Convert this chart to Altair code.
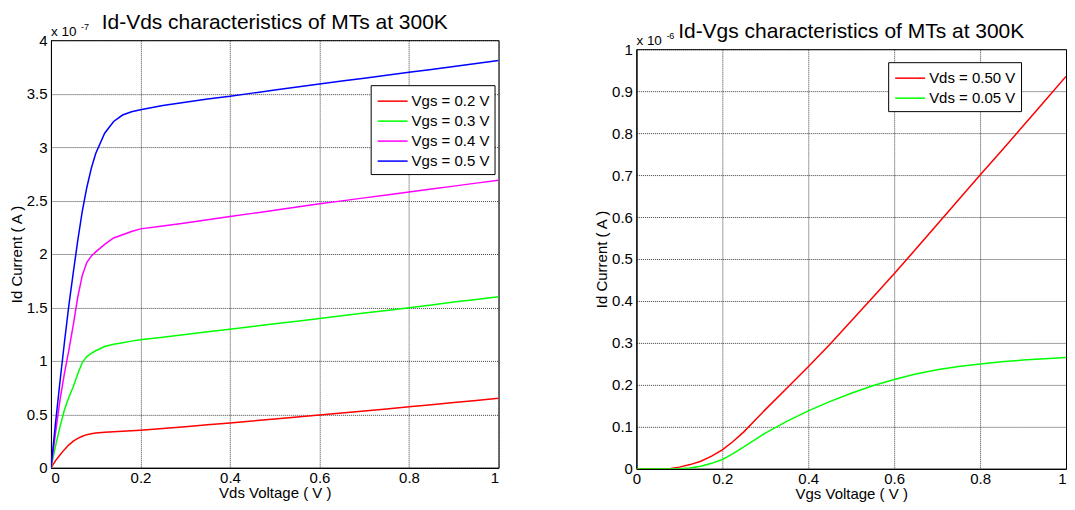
import altair as alt
import pandas as pd

FONT = "Liberation Sans"

# ---------------- Left panel: Id-Vds (units of 1e-7 A) ----------------
vds = [0, 0.01, 0.02, 0.03, 0.04, 0.05, 0.06, 0.07, 0.08, 0.09, 0.10, 0.12, 0.14,
       0.16, 0.18, 0.20, 0.25, 0.30, 0.35, 0.40, 0.45, 0.50, 0.55, 0.60, 0.65,
       0.70, 0.75, 0.80, 0.85, 0.90, 0.95, 1.00]
id_vgs02 = [0, 0.065, 0.12, 0.17, 0.215, 0.25, 0.275, 0.295, 0.31, 0.318, 0.325,
            0.333, 0.338, 0.342, 0.347, 0.352, 0.368, 0.385, 0.402, 0.42, 0.438,
            0.457, 0.476, 0.495, 0.513, 0.532, 0.551, 0.57, 0.59, 0.61, 0.63, 0.65]
id_vgs03 = [0, 0.2, 0.38, 0.54, 0.66, 0.76, 0.88, 0.985, 1.04, 1.07, 1.095,
            1.135, 1.155, 1.17, 1.185, 1.197, 1.222, 1.247, 1.272, 1.297, 1.322,
            1.347, 1.372, 1.397, 1.422, 1.447, 1.472, 1.497, 1.523, 1.55, 1.575, 1.6]
id_vgs04 = [0, 0.32, 0.63, 0.88, 1.1, 1.34, 1.6, 1.8, 1.92, 1.98, 2.02,
            2.09, 2.15, 2.18, 2.21, 2.235, 2.262, 2.29, 2.32, 2.35, 2.38,
            2.41, 2.44, 2.47, 2.497, 2.525, 2.552, 2.58, 2.608, 2.635, 2.663, 2.69]
id_vgs05 = [0, 0.41, 0.8, 1.17, 1.52, 1.83, 2.13, 2.4, 2.62, 2.8, 2.94,
            3.13, 3.24, 3.3, 3.33, 3.35, 3.39, 3.42, 3.45, 3.475, 3.505,
            3.535, 3.562, 3.59, 3.618, 3.645, 3.672, 3.70, 3.727, 3.755, 3.782, 3.81]
vgs_labels = ["Vgs = 0.2 V", "Vgs = 0.3 V", "Vgs = 0.4 V", "Vgs = 0.5 V"]
left_colors = ["#ff0000", "#00ff00", "#ff00ff", "#0000ff"]
left_x_ticks = [0, 0.2, 0.4, 0.6, 0.8, 1]
left_y_ticks = [0, 0.5, 1, 1.5, 2, 2.5, 3, 3.5, 4]

# ---------------- Right panel: Id-Vgs (units of 1e-6 A) ----------------
vgs = [0, 0.05, 0.08, 0.10, 0.125, 0.15, 0.175, 0.20, 0.225, 0.25, 0.30, 0.35,
       0.40, 0.45, 0.50, 0.55, 0.60, 0.65, 0.70, 0.75, 0.80, 0.85, 0.90, 0.95, 1.00]
id_vds050 = [0, 0, 0.001, 0.004, 0.01, 0.018, 0.03, 0.045, 0.065, 0.088, 0.141,
             0.192, 0.243, 0.296, 0.352, 0.408, 0.465, 0.523, 0.582, 0.641, 0.70,
             0.758, 0.817, 0.876, 0.935]
id_vds005 = [0, 0, 0, 0, 0.002, 0.006, 0.013, 0.022, 0.036, 0.052, 0.085,
             0.113, 0.138, 0.16, 0.18, 0.198, 0.213, 0.226, 0.236, 0.244, 0.25,
             0.255, 0.259, 0.262, 0.265]
vds_labels = ["Vds = 0.50 V", "Vds = 0.05 V"]
right_colors = ["#ff0000", "#00ff00"]
right_x_ticks = [0, 0.2, 0.4, 0.6, 0.8, 1]
right_y_ticks = [0, 0.1, 0.2, 0.3, 0.4, 0.5, 0.6, 0.7, 0.8, 0.9, 1]

titles = ["Id-Vds characteristics of MTs at 300K",
          "Id-Vgs characteristics of MTs at 300K"]


def make_df(xs, series, labels):
    rows = []
    for k, (lab, ys) in enumerate(zip(labels, series)):
        for x, y in zip(xs, ys):
            rows.append({"x": x, "y": y, "s": lab, "k": k})
    return pd.DataFrame(rows)


left_df = make_df(vds, [id_vgs02, id_vgs03, id_vgs04, id_vgs05], vgs_labels)
right_df = make_df(vgs, [id_vds050, id_vds005], vds_labels)


def panel(df, labels, colors, xticks, yticks, ymax, xtitle, title, w, h,
          legx, legy, exp_txt, flush_last=False):
    xaxis_kw = dict(values=xticks, title=xtitle, format="~g")
    if flush_last:
        xaxis_kw["labelAlign"] = {"condition": {"test": "datum.value >= 1",
                                                "value": "right"},
                                  "value": "center"}
    lines = alt.Chart(df).mark_line(strokeWidth=1.5, clip=True).encode(
        x=alt.X("x:Q", scale=alt.Scale(domain=[0, 1], nice=False, zero=False),
                axis=alt.Axis(**xaxis_kw)),
        y=alt.Y("y:Q", scale=alt.Scale(domain=[0, ymax], nice=False),
                axis=alt.Axis(values=yticks, title="Id Current ( A )", format="~g")),
        color=alt.Color("s:N", scale=alt.Scale(domain=labels, range=colors),
                        legend=alt.Legend(orient="none", legendX=legx, legendY=legy,
                                          title=None, symbolType="M-1.5,0H1.5",
                                          symbolSize=400, symbolStrokeWidth=1.5,
                                          symbolOffset=6,
                                          labelFontSize=15, labelFont=FONT,
                                          labelColor="black", fillColor="white",
                                          strokeColor="black", padding=5,
                                          labelOffset=8, rowPadding=1)),
        detail="k:N",
    )
    base_txt = alt.Chart(pd.DataFrame({"t": ["x 10"], "e": [exp_txt],
                                       "title": [title]}))
    ttl = base_txt.mark_text(align="center", baseline="alphabetic", fontSize=21,
                             font=FONT, color="black").encode(
        x=alt.value(w / 2), y=alt.value(-11), text="title:N")
    x10 = base_txt.mark_text(align="left", baseline="alphabetic", fontSize=13.5,
                             font=FONT, color="black").encode(
        x=alt.value(0), y=alt.value(-4), text="t:N")
    expo = base_txt.mark_text(align="left", baseline="alphabetic", fontSize=9,
                              font=FONT, color="black").encode(
        x=alt.value(30), y=alt.value(-10), text="e:N")
    return alt.layer(lines, ttl, x10, expo).properties(width=w, height=h)


def spacer(h):
    return alt.Chart(pd.DataFrame({"a": [0]})).mark_rule(opacity=0).encode(
        x=alt.value(0), x2=alt.value(1), y=alt.value(0), y2=alt.value(0)
    ).properties(width=1, height=h,
                 view=alt.ViewBackground(stroke="transparent"))


left = alt.vconcat(
    spacer(1),
    panel(left_df, vgs_labels, left_colors, left_x_ticks, left_y_ticks, 4,
          "Vds Voltage ( V )", titles[0], 448, 428, 320, 76, "-7"),
    spacing=0)

right = alt.vconcat(
    spacer(10),
    panel(right_df, vds_labels, right_colors, right_x_ticks, right_y_ticks, 1,
          "Vgs Voltage ( V )", titles[1], 430, 420, 252, 53, "-6",
          flush_last=True),
    spacing=0)

chart = alt.hconcat(left, right, spacing=94).resolve_scale(
    color="independent", x="independent", y="independent"
).configure_view(stroke="black", strokeWidth=1).configure_axis(
    labelFont=FONT, labelFontSize=15, labelColor="black", labelPadding=4,
    titleFont=FONT, titleFontSize=15, titleFontWeight="normal", titleColor="black",
    domainColor="black", ticks=False, gridColor="#000000", gridDash=[1, 1],
    gridOpacity=0.75, titlePadding=2,
).configure_axisX(labelPadding=3, titlePadding=0).properties(
    padding={"left": 0, "top": 0, "right": 0, "bottom": 0})

chart.save("out.html", embed_options={"renderer": "svg", "actions": False})
